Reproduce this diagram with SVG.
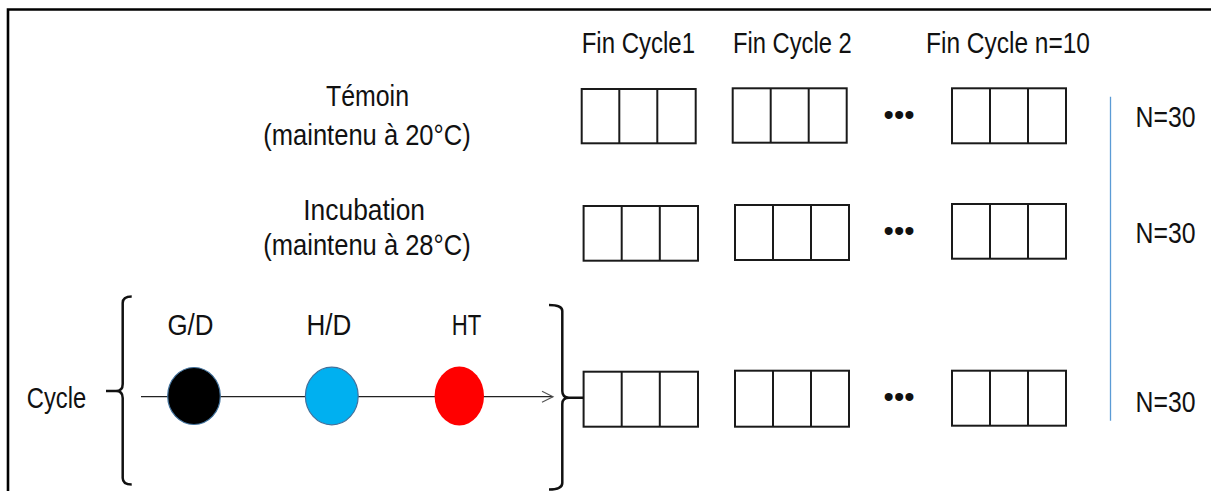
<svg xmlns="http://www.w3.org/2000/svg" width="1211" height="491" viewBox="0 0 1211 491">
<style>
text{font-family:"Liberation Sans",Arial,sans-serif;font-size:29px;fill:#111}
.box{fill:#fff;stroke:#1a1a1a;stroke-width:2}
.div{stroke:#1a1a1a;stroke-width:2}
.br{fill:none;stroke:#111;stroke-width:2.5}
.dots{font-size:29px}
</style>
<defs>
<marker id="arr" markerWidth="14" markerHeight="14" refX="12" refY="7" orient="auto" markerUnits="userSpaceOnUse">
<path d="M1,1.5 L12,7 L1,12.5" fill="none" stroke="#555" stroke-width="1.2"/>
</marker>
</defs>
<rect width="1211" height="491" fill="#fff"/>
<path d="M8,491 L8,9.5 L1211,9.5" fill="none" stroke="#000" stroke-width="2.6"/>

<g id="headers">
<text x="581.7" y="53.3" textLength="113.3" lengthAdjust="spacingAndGlyphs">Fin Cycle1</text>
<text x="733" y="53.3" textLength="118.7" lengthAdjust="spacingAndGlyphs">Fin Cycle 2</text>
<text x="926" y="53.3" textLength="164" lengthAdjust="spacingAndGlyphs">Fin Cycle n=10</text>
</g>
<g id="label-temoin">
<text x="326" y="106" textLength="83" lengthAdjust="spacingAndGlyphs">Témoin</text>
<text x="263.3" y="145" textLength="207.4" lengthAdjust="spacingAndGlyphs">(maintenu à 20°C)</text>
</g>
<g id="label-incubation">
<text x="303.3" y="219.5" textLength="121.7" lengthAdjust="spacingAndGlyphs">Incubation</text>
<text x="263.3" y="255" textLength="207.4" lengthAdjust="spacingAndGlyphs">(maintenu à 28°C)</text>
</g>
<g id="label-cycle">
<text x="26.8" y="408.3" textLength="59.4" lengthAdjust="spacingAndGlyphs">Cycle</text>
</g>

<g id="row1">
<g id="r1b1"><rect class="box" x="581.7" y="89" width="114" height="54.3"/><line class="div" x1="619.3" y1="89" x2="619.3" y2="143.3"/><line class="div" x1="657.3" y1="89" x2="657.3" y2="143.3"/></g>
<g id="r1b2"><rect class="box" x="732.7" y="88.3" width="114" height="54.4"/><line class="div" x1="770.7" y1="88.3" x2="770.7" y2="142.7"/><line class="div" x1="808.7" y1="88.3" x2="808.7" y2="142.7"/></g>
<text class="dots" x="883.6" y="124.5" textLength="31" lengthAdjust="spacingAndGlyphs">•••</text>
<g id="r1b3"><rect class="box" x="952" y="88.3" width="114" height="55"/><line class="div" x1="990" y1="88.3" x2="990" y2="143.3"/><line class="div" x1="1028" y1="88.3" x2="1028" y2="143.3"/></g>
</g>

<g id="row2">
<g id="r2b1"><rect class="box" x="583.6" y="206" width="114.4" height="54.7"/><line class="div" x1="621.7" y1="206" x2="621.7" y2="260.7"/><line class="div" x1="659.8" y1="206" x2="659.8" y2="260.7"/></g>
<g id="r2b2"><rect class="box" x="735" y="205" width="114" height="55"/><line class="div" x1="773" y1="205" x2="773" y2="260"/><line class="div" x1="811" y1="205" x2="811" y2="260"/></g>
<text class="dots" x="883.6" y="241.2" textLength="31" lengthAdjust="spacingAndGlyphs">•••</text>
<g id="r2b3"><rect class="box" x="952" y="204" width="114" height="54.7"/><line class="div" x1="990" y1="204" x2="990" y2="258.7"/><line class="div" x1="1028" y1="204" x2="1028" y2="258.7"/></g>
</g>

<g id="row3">
<g id="r3b1"><rect class="box" x="583.6" y="371.7" width="114.4" height="55"/><line class="div" x1="621.7" y1="371.7" x2="621.7" y2="426.7"/><line class="div" x1="659.8" y1="371.7" x2="659.8" y2="426.7"/></g>
<g id="r3b2"><rect class="box" x="735" y="370.7" width="114" height="56"/><line class="div" x1="773" y1="370.7" x2="773" y2="426.7"/><line class="div" x1="811" y1="370.7" x2="811" y2="426.7"/></g>
<text class="dots" x="883.6" y="406.9" textLength="31" lengthAdjust="spacingAndGlyphs">•••</text>
<g id="r3b3"><rect class="box" x="952" y="370.7" width="114" height="55"/><line class="div" x1="990" y1="370.7" x2="990" y2="425.7"/><line class="div" x1="1028" y1="370.7" x2="1028" y2="425.7"/></g>
</g>

<g id="counts">
<line x1="1110.5" y1="96.7" x2="1110.5" y2="420.7" stroke="#5b9bd5" stroke-width="1.3"/>
<text x="1135.5" y="126.7" textLength="60" lengthAdjust="spacingAndGlyphs">N=30</text>
<text x="1135.5" y="243.3" textLength="60" lengthAdjust="spacingAndGlyphs">N=30</text>
<text x="1135.5" y="411.7" textLength="60" lengthAdjust="spacingAndGlyphs">N=30</text>
</g>

<g id="connectors">
<line x1="141" y1="396.7" x2="553" y2="396.7" stroke="#222" stroke-width="1.3" marker-end="url(#arr)"/>
<path class="br" d="M131.7,296.5 Q122.7,296.5 122.7,303 L122.7,384 Q122.7,391 116,391 L106,391 M116,391 Q122.7,391 122.7,398 L122.7,478 Q122.7,484.5 131.7,484.5"/>
<path class="br" d="M549,305 Q562.3,305 562.3,311 L562.3,391 Q562.3,397.7 569,397.7 L584,397.7 M569,397.7 Q562.3,397.7 562.3,404 L562.3,483 Q562.3,489.5 549,489.5"/>
</g>

<g id="node-gd">
<text x="167.4" y="335" textLength="46" lengthAdjust="spacingAndGlyphs">G/D</text>
<ellipse cx="194" cy="396" rx="26.3" ry="28.5" fill="#000" stroke="#41719c" stroke-width="1.2"/>
</g>
<g id="node-hd">
<text x="306.5" y="335" textLength="44.8" lengthAdjust="spacingAndGlyphs">H/D</text>
<ellipse cx="331.8" cy="396" rx="26.4" ry="28.8" fill="#00b0f0" stroke="#41719c" stroke-width="1.2"/>
</g>
<g id="node-ht">
<text x="451.7" y="335" textLength="29.5" lengthAdjust="spacingAndGlyphs">HT</text>
<ellipse cx="459.3" cy="396" rx="24.7" ry="29.5" fill="#ff0000"/>
</g>
</svg>
